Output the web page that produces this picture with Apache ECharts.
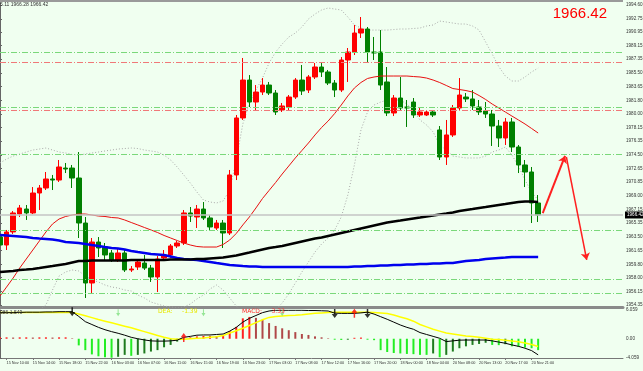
<!DOCTYPE html>
<html><head><meta charset="utf-8">
<script src="https://cdn.jsdelivr.net/npm/echarts@6/dist/echarts.min.js"></script>
<style>html,body{margin:0;padding:0;background:#f0fff0;overflow:hidden}#c{width:643px;height:371px}</style>
</head><body><div id="c"></div>
<script>
// ---- data ----
const timeLabels = ["15 Nov 10:00","15 Nov 14:00","15 Nov 18:00","15 Nov 22:00","16 Nov 03:00","16 Nov 07:00","16 Nov 11:00","16 Nov 15:00","16 Nov 19:00","16 Nov 23:00","17 Nov 03:00","17 Nov 08:00","17 Nov 12:00","17 Nov 16:00","17 Nov 20:00","18 Nov 00:00","18 Nov 04:00","20 Nov 08:00","20 Nov 13:00","20 Nov 17:00","20 Nov 21:00"];
const opens  = [1963.46,1962.39,1964.14,1966.55,1967.22,1966.69,1969.37,1970.04,1971.25,1971.11,1972.72,1972.72,1971.38,1965.34,1957.29,1962.79,1962.12,1961.32,1960.38,1961.32,1959.04,1959.44,1959.97,1959.30,1958.10,1960.65,1961.05,1962.26,1962.66,1966.69,1966.15,1967.22,1966.02,1964.67,1965.34,1964.00,1971.79,1979.44,1984.53,1981.58,1982.92,1983.86,1982.79,1980.51,1980.91,1982.25,1984.53,1983.19,1984.94,1986.28,1985.61,1984.13,1983.19,1987.22,1988.29,1990.84,1991.38,1988.29,1988.29,1984.27,1980.11,1982.12,1980.91,1981.58,1979.84,1979.84,1980.24,1977.83,1974.20,1977.16,1980.78,1982.25,1981.99,1980.91,1980.38,1979.97,1978.36,1976.75,1978.90,1975.54,1973.13,1972.19,1968.03];
const closes = [1962.39,1964.14,1966.69,1967.36,1966.69,1969.37,1970.04,1971.25,1971.11,1972.86,1972.59,1971.38,1965.34,1957.29,1962.79,1961.99,1961.05,1960.38,1961.32,1959.04,1959.17,1960.11,1959.30,1958.10,1960.51,1961.05,1962.26,1962.66,1966.69,1966.28,1967.22,1966.02,1964.81,1965.34,1964.00,1971.79,1979.44,1984.53,1981.58,1982.92,1983.86,1982.79,1980.24,1981.05,1982.25,1984.53,1983.06,1984.94,1986.28,1985.61,1984.13,1983.19,1987.22,1988.29,1990.84,1991.38,1988.29,1988.16,1983.86,1980.11,1982.12,1980.78,1980.78,1979.84,1980.24,1980.24,1979.84,1974.20,1977.16,1980.78,1982.52,1981.99,1981.05,1980.24,1979.97,1978.36,1976.75,1978.90,1975.54,1973.13,1972.19,1968.03,1966.42];
const lows   = [1961.99,1961.72,1963.87,1966.15,1965.75,1966.55,1967.09,1969.77,1969.77,1970.85,1972.05,1970.04,1963.33,1955.28,1955.95,1960.78,1960.38,1960.11,1960.11,1958.77,1958.77,1959.04,1959.04,1957.43,1956.08,1960.38,1960.65,1961.99,1962.39,1965.48,1964.67,1965.75,1964.41,1964.41,1961.99,1963.73,1971.11,1979.17,1980.91,1980.51,1982.52,1982.52,1979.84,1980.24,1980.51,1981.99,1982.52,1982.79,1984.67,1984.94,1983.86,1982.25,1982.92,1984.27,1987.89,1990.17,1986.95,1987.22,1983.19,1979.70,1979.70,1980.51,1978.23,1979.44,1979.57,1979.70,1979.57,1973.80,1973.13,1976.89,1980.51,1981.58,1980.51,1979.84,1979.44,1975.68,1975.54,1975.81,1974.87,1972.05,1970.17,1965.34,1965.48];
const highs  = [1964.00,1964.41,1966.95,1967.76,1967.76,1970.17,1970.44,1972.19,1971.79,1973.80,1973.40,1973.13,1974.87,1966.15,1963.33,1963.46,1962.66,1961.72,1961.99,1961.72,1959.57,1960.51,1961.05,1959.71,1960.91,1961.72,1962.52,1962.93,1967.09,1967.49,1967.76,1968.16,1966.42,1965.75,1965.75,1972.46,1979.84,1987.49,1985.20,1983.86,1984.80,1984.27,1983.19,1981.45,1982.52,1984.80,1986.55,1985.20,1986.82,1986.82,1985.88,1984.53,1987.62,1988.83,1991.92,1992.99,1991.65,1990.31,1991.24,1986.28,1982.52,1984.94,1981.85,1982.12,1980.78,1980.51,1980.51,1978.36,1979.17,1981.18,1984.80,1982.79,1983.19,1981.85,1981.58,1980.51,1979.17,1979.44,1979.44,1975.81,1973.80,1972.86,1969.10];
const maBlack = [1958.77,1958.84,1958.90,1959.04,1959.10,1959.17,1959.30,1959.44,1959.57,1959.71,1959.84,1960.04,1960.24,1960.24,1960.31,1960.31,1960.31,1960.31,1960.31,1960.31,1960.38,1960.38,1960.38,1960.38,1960.38,1960.38,1960.44,1960.44,1960.44,1960.44,1960.51,1960.51,1960.58,1960.65,1960.71,1960.85,1960.98,1961.18,1961.38,1961.59,1961.79,1961.99,1962.12,1962.26,1962.46,1962.66,1962.86,1963.06,1963.26,1963.40,1963.60,1963.80,1964.00,1964.20,1964.41,1964.61,1964.81,1965.01,1965.21,1965.41,1965.55,1965.68,1965.82,1965.95,1966.08,1966.22,1966.35,1966.49,1966.62,1966.76,1966.96,1967.09,1967.22,1967.36,1967.49,1967.63,1967.76,1967.89,1968.03,1968.16,1968.23,1968.23,1968.16];
const maBlue = [1963.73,1963.67,1963.60,1963.53,1963.46,1963.33,1963.26,1963.20,1963.13,1962.99,1962.79,1962.73,1962.66,1962.53,1962.39,1962.26,1962.12,1961.99,1961.92,1961.79,1961.59,1961.45,1961.32,1961.18,1961.12,1961.05,1960.85,1960.65,1960.51,1960.44,1960.38,1960.24,1960.11,1959.97,1959.84,1959.71,1959.64,1959.57,1959.51,1959.51,1959.44,1959.44,1959.44,1959.44,1959.44,1959.44,1959.44,1959.44,1959.44,1959.44,1959.44,1959.44,1959.44,1959.44,1959.51,1959.51,1959.57,1959.57,1959.64,1959.64,1959.71,1959.71,1959.77,1959.77,1959.84,1959.84,1959.91,1959.91,1959.97,1959.97,1960.11,1960.24,1960.31,1960.38,1960.51,1960.58,1960.65,1960.71,1960.78,1960.78,1960.78,1960.78,1960.78];
const bbMid = [1955.55,1956.75,1957.96,1959.30,1960.51,1961.72,1962.93,1964.14,1965.21,1965.88,1966.22,1966.42,1966.55,1966.55,1966.42,1966.28,1966.22,1966.08,1966.02,1965.75,1965.41,1965.08,1964.74,1964.41,1964.07,1963.67,1963.33,1962.99,1962.66,1962.39,1962.19,1962.12,1962.12,1962.12,1962.46,1963.06,1963.94,1965.08,1966.15,1967.36,1968.63,1969.71,1970.78,1971.92,1972.99,1974.07,1975.07,1976.08,1977.16,1978.16,1979.03,1980.04,1981.18,1982.39,1983.46,1984.20,1984.74,1984.94,1985.07,1985.07,1985.07,1985.07,1985.07,1985.00,1984.94,1984.80,1984.53,1984.20,1983.80,1983.39,1983.26,1983.12,1982.92,1982.45,1981.92,1981.31,1980.78,1980.24,1979.70,1979.17,1978.63,1978.03,1977.42];
const bbUpper = [1973.40,1973.93,1974.33,1974.60,1974.87,1975.14,1975.27,1975.41,1975.14,1974.87,1974.74,1974.54,1974.47,1974.60,1974.74,1974.87,1975.01,1975.14,1975.27,1975.34,1975.41,1975.34,1975.14,1975.01,1974.87,1974.47,1973.80,1972.86,1971.79,1970.71,1969.50,1968.43,1968.16,1968.03,1968.30,1969.77,1973.80,1978.63,1981.45,1983.19,1984.80,1986.82,1988.29,1989.37,1990.30,1990.84,1991.65,1992.72,1993.39,1993.93,1994.20,1994.06,1993.93,1992.99,1991.92,1991.51,1991.24,1991.24,1991.24,1991.24,1991.31,1991.38,1991.38,1991.45,1991.51,1991.78,1991.92,1992.45,1992.32,1992.18,1992.05,1992.05,1991.78,1991.24,1989.63,1988.02,1986.33,1985.07,1984.40,1984.40,1984.94,1985.61,1986.14];
const bbLower = [1950.98,1951.25,1951.65,1952.06,1952.59,1953.13,1953.67,1954.34,1956.35,1958.23,1958.77,1959.04,1958.90,1958.23,1957.69,1957.43,1957.02,1956.75,1956.62,1956.35,1956.22,1955.68,1955.28,1954.74,1954.47,1954.20,1954.07,1953.94,1954.07,1954.47,1955.14,1955.68,1956.49,1957.02,1956.35,1955.28,1954.20,1953.40,1952.59,1952.33,1952.59,1953.13,1953.67,1954.61,1955.82,1957.29,1958.77,1960.11,1961.45,1962.52,1963.33,1964.41,1966.15,1969.10,1973.13,1977.83,1980.24,1981.18,1981.58,1981.85,1981.85,1981.85,1981.31,1980.51,1979.17,1978.50,1977.56,1975.81,1975.14,1974.33,1974.20,1974.07,1974.07,1974.07,1974.33,1974.87,1975.14,1975.54,1974.47,1972.99,1971.11,1969.50,1968.43];
const greenLevels = [1988.29,1980.91,1974.61,1964.41,1957.84,1955.96];
const redLevels = [1986.95,1980.51];
const lastPrice = 1966.42;
const priceTicks = [1994.60,1992.75,1990.95,1989.15,1987.35,1985.50,1983.65,1981.80,1980.00,1978.15,1976.35,1974.50,1972.65,1970.85,1969.00,1967.15,1965.35,1963.50,1961.65,1959.80,1958.00,1956.15,1954.35];
const arrowUp = [[82.7,1966.68],[86.1,1974.34]];
const arrowDown = [[86.3,1974.2],[89.4,1960.39]];
const macdHist = [0.3,0.3,0.25,0.3,0.3,0.25,0.3,0.3,0.25,0.3,0.3,0.1,-1.4,-2.4,-3.3,-3.7,-3.9,-4.0,-3.8,-3.4,-3.6,-3.4,-3.1,-2.7,-2.4,-1.8,-1.3,-0.6,0.2,0.3,0.5,0.6,0.6,0.55,0.6,1.6,2.5,4.3,4.6,4.4,4.0,3.3,2.7,2.2,1.8,1.4,1.0,0.8,0.5,0.3,0.1,-0.2,-0.25,-0.2,0.2,0.25,-0.2,-0.3,-2.4,-2.8,-3.0,-3.1,-3.2,-3.25,-3.4,-3.4,-3.1,-3.9,-3.4,-2.7,-2.0,-1.6,-1.3,-1.1,-0.85,-1.3,-1.35,-1.15,-1.6,-1.7,-1.85,-2.0,-2.4];
const macdLine = [5.5,5.5,5.5,5.55,5.6,5.6,5.6,5.65,5.65,5.7,5.7,5.7,4.7,3.6,3.0,2.4,1.9,1.5,1.15,0.75,0.3,0.0,-0.25,-0.45,-0.5,-0.5,-0.45,-0.3,0.3,0.5,0.75,0.8,0.8,0.9,1.0,1.6,2.4,3.5,4.3,4.9,5.5,5.85,6.0,6.0,6.0,6.0,6.0,5.95,5.95,5.9,5.85,5.4,5.35,5.35,5.35,5.45,5.6,5.2,4.65,4.1,3.5,2.9,2.4,2.0,1.3,0.9,0.5,0.1,-0.6,-0.45,-0.3,-0.27,-0.27,-0.27,-0.27,-0.45,-0.7,-0.95,-1.3,-1.6,-2.0,-2.5,-3.4];
const signalLine = [5.55,5.55,5.55,5.55,5.55,5.55,5.55,5.55,5.55,5.55,5.55,5.55,5.2,4.85,4.45,4.05,3.7,3.35,3.0,2.65,2.3,1.9,1.5,1.1,0.7,0.3,0.0,-0.13,-0.1,0.0,0.08,0.15,0.3,0.4,0.7,1.2,1.7,2.2,2.8,3.4,4.0,4.5,4.7,4.8,4.9,4.95,5.05,5.2,5.35,5.45,5.55,5.6,5.6,5.6,5.6,5.6,5.6,5.55,5.45,5.3,5.0,4.6,4.2,3.7,3.0,2.5,2.0,1.6,1.2,1.0,0.8,0.6,0.45,0.3,0.1,-0.1,-0.15,-0.3,-0.5,-0.65,-0.9,-1.2,-1.65];
const macdDownArrows = [[11,5.7],[51,5.3],[56,5.3]];
const macdUpArrows = [[28,0.25],[54,5.4]];
const macdGreenMarks = [[18,5.5],[31,5.5],[43,5.5]];
const macdTicks = [6.059,0,-4.059];

// ---- layout ----
const XMAX = 94.93;
const labelPos = timeLabels.map((_, k) => 1 + 4 * k);
const candleData = opens.map((o, i) => [i, o, closes[i], lows[i], highs[i]]);
const pts = arr => arr.map((v, i) => [i, v]);
const histData = macdHist.map((v, i) => {
  const prev = i > 0 ? macdHist[i - 1] : v;
  let c;
  if (v >= 0) c = v >= prev ? '#ff2020' : '#b04848';
  else c = v <= prev ? '#22ee22' : '#1e7b1e';
  return { value: [i, v], itemStyle: { color: c } };
});
const fmt2 = v => Number(v).toFixed(2);
const levelLine = (vals, color) => ({
  silent: true, symbol: 'none', animation: false,
  lineStyle: { color: color, type: [6, 2, 1, 2], width: 1 },
  label: { show: false },
  data: vals.map(v => ({ yAxis: v }))
});
const downPath = 'path://M3,0 L5,0 L5,6 L8,6 L4,11 L0,6 L3,6 Z';
const upPath = 'path://M3,11 L5,11 L5,5 L8,5 L4,0 L0,5 L3,5 Z';
const FONT = 'DejaVu Sans';
const NARROW = '"Liberation Sans", sans-serif';

const chart = echarts.init(document.getElementById('c'));
chart.setOption({
  animation: false,
  backgroundColor: '#f0fff0',
  textStyle: { fontFamily: FONT },
  grid: [
    { left: 0, top: 3, width: 623, height: 304, outerBoundsMode: 'none', containLabel: false },
    { left: 0, top: 310, width: 623, height: 48, outerBoundsMode: 'none', containLabel: false }
  ],
  xAxis: [
    { type: 'value', gridIndex: 0, min: 0, max: XMAX, splitLine: { show: false },
      axisLine: { show: true, onZero: false, lineStyle: { color: '#8a8a8a', width: 3 } },
      axisTick: { show: false }, axisLabel: { show: false } },
    { type: 'value', gridIndex: 1, min: 0, max: XMAX, splitLine: { show: false },
      axisLine: { show: true, onZero: false, lineStyle: { color: '#777', width: 1 } },
      axisTick: { show: true, length: 2, customValues: labelPos, lineStyle: { color: '#777' } },
      axisLabel: { show: true, customValues: labelPos, fontSize: 3.8, color: '#333', margin: 3, align: 'left',
        hideOverlap: false, showMinLabel: true, showMaxLabel: true, fontFamily: NARROW,
        formatter: v => timeLabels[Math.round((v - 1) / 4)] || '' } }
  ],
  yAxis: [
    { type: 'value', gridIndex: 0, position: 'right', min: 1954.07, max: 1994.87, splitLine: { show: false },
      axisLine: { show: true, lineStyle: { color: '#666', width: 1 } },
      axisTick: { show: true, length: 2, inside: false, customValues: priceTicks, lineStyle: { color: '#666' } },
      axisLabel: { show: true, customValues: priceTicks, fontSize: 4.6, color: '#333', margin: 3, fontFamily: NARROW,
        hideOverlap: false, showMinLabel: true, showMaxLabel: true, formatter: fmt2 } },
    { type: 'value', gridIndex: 1, position: 'right', min: -4.059, max: 6.059, splitLine: { show: false },
      axisLine: { show: true, lineStyle: { color: '#666', width: 1 } },
      axisTick: { show: true, length: 2, customValues: macdTicks, lineStyle: { color: '#666' } },
      axisLabel: { show: true, customValues: macdTicks, fontSize: 4.6, color: '#333', margin: 3, fontFamily: NARROW,
        hideOverlap: false, showMinLabel: true, showMaxLabel: true,
        formatter: v => (v === 0 ? '0.00' : String(v)) } }
  ],
  graphic: [
    { type: 'rect', left: 0, top: 0, shape: { width: 623, height: 2 }, style: { fill: '#9a9a9a' }, z: 10 },
    { type: 'text', left: 0, top: 2, style: { text: '5.11 1966.28 1966.42', fontSize: 5, fill: '#333', fontFamily: NARROW }, z: 10 },
    { type: 'text', right: 36, top: 6, style: { text: '1966.42', fontSize: 15, fill: '#ff0000', fontFamily: 'Liberation Sans' }, z: 10 },
    { type: 'text', left: 0, top: 310, style: { text: '086 1.549', fontSize: 5, fill: '#333', fontFamily: NARROW }, z: 10 },
    { type: 'text', left: 158, top: 308, style: { text: 'DEA:     -1.39', fontSize: 6, fill: '#e8e800', fontFamily: FONT }, z: 10 },
    { type: 'text', left: 242, top: 308, style: { text: 'MACD:     3.33', fontSize: 6, fill: '#ff3030', fontFamily: FONT }, z: 10 }
  ],
  series: [
    { type: 'line', name: 'bbUpper', data: pts(bbUpper), xAxisIndex: 0, yAxisIndex: 0, symbol: 'none', z: 1,
      lineStyle: { color: '#a8a8a8', width: 1, type: [1, 2] },
      markLine: levelLine(greenLevels, '#7ad87a') },
    { type: 'line', name: 'bbLower', data: pts(bbLower), xAxisIndex: 0, yAxisIndex: 0, symbol: 'none', z: 1,
      lineStyle: { color: '#a8a8a8', width: 1, type: [1, 2] },
      markLine: levelLine(redLevels, '#f07878') },
    { type: 'candlestick', name: 'price', data: candleData, xAxisIndex: 0, yAxisIndex: 0, barWidth: 5, z: 2,
      itemStyle: { color: '#ff0000', color0: '#008000', borderColor: '#ff0000', borderColor0: '#008000', borderWidth: 1 },
      markLine: { silent: true, symbol: 'none', animation: false,
        lineStyle: { color: '#c4c4c4', width: 1.5, type: 'solid' },
        label: { show: true, position: 'end', formatter: fmt2(lastPrice), backgroundColor: '#000', color: '#fff', fontSize: 4.6, padding: [1, 2], distance: 2, fontFamily: NARROW },
        data: [{ yAxis: lastPrice }] } },
    { type: 'line', name: 'bbMid', data: pts(bbMid), xAxisIndex: 0, yAxisIndex: 0, symbol: 'none', z: 3,
      lineStyle: { color: '#e81010', width: 1 } },
    { type: 'line', name: 'maBlue', data: pts(maBlue), xAxisIndex: 0, yAxisIndex: 0, symbol: 'none', z: 4,
      lineStyle: { color: '#0000ee', width: 2.5 } },
    { type: 'line', name: 'maBlack', data: pts(maBlack), xAxisIndex: 0, yAxisIndex: 0, symbol: 'none', z: 4,
      lineStyle: { color: '#000', width: 2.5 } },
    { type: 'line', name: 'arrows', data: [], xAxisIndex: 0, yAxisIndex: 0, symbol: 'none', z: 5,
      markLine: { silent: true, animation: false, symbol: ['none', 'arrow'], symbolSize: 7,
        label: { show: false },
        lineStyle: { type: 'solid', color: '#ff2020' },
        data: [
          [{ coord: arrowUp[0], lineStyle: { color: '#ff2020', width: 2, type: 'solid' } }, { coord: arrowUp[1] }],
          [{ coord: arrowDown[0], lineStyle: { color: '#ff2020', width: 1.5, type: 'solid' } }, { coord: arrowDown[1] }]
        ] } },
    { type: 'bar', name: 'hist', data: histData, xAxisIndex: 1, yAxisIndex: 1, barWidth: 2, z: 1 },
    { type: 'line', name: 'signal', data: pts(signalLine), xAxisIndex: 1, yAxisIndex: 1, symbol: 'none', z: 2,
      lineStyle: { color: '#ffff00', width: 1.5 } },
    { type: 'line', name: 'macd', data: pts(macdLine), xAxisIndex: 1, yAxisIndex: 1, symbol: 'none', z: 3,
      lineStyle: { color: '#000', width: 1 } },
    { type: 'scatter', name: 'dn', data: macdDownArrows, xAxisIndex: 1, yAxisIndex: 1, symbol: downPath, symbolSize: [6, 9], z: 4,
      itemStyle: { color: '#000' } },
    { type: 'scatter', name: 'up', data: macdUpArrows, xAxisIndex: 1, yAxisIndex: 1, symbol: upPath, symbolSize: [6, 9], z: 4,
      itemStyle: { color: '#ff0000' } },
    { type: 'scatter', name: 'marks', data: macdGreenMarks, xAxisIndex: 1, yAxisIndex: 1, symbol: downPath, symbolSize: [4, 7], z: 4,
      itemStyle: { color: '#7ee07e' } }
  ]
});
</script></body></html>
